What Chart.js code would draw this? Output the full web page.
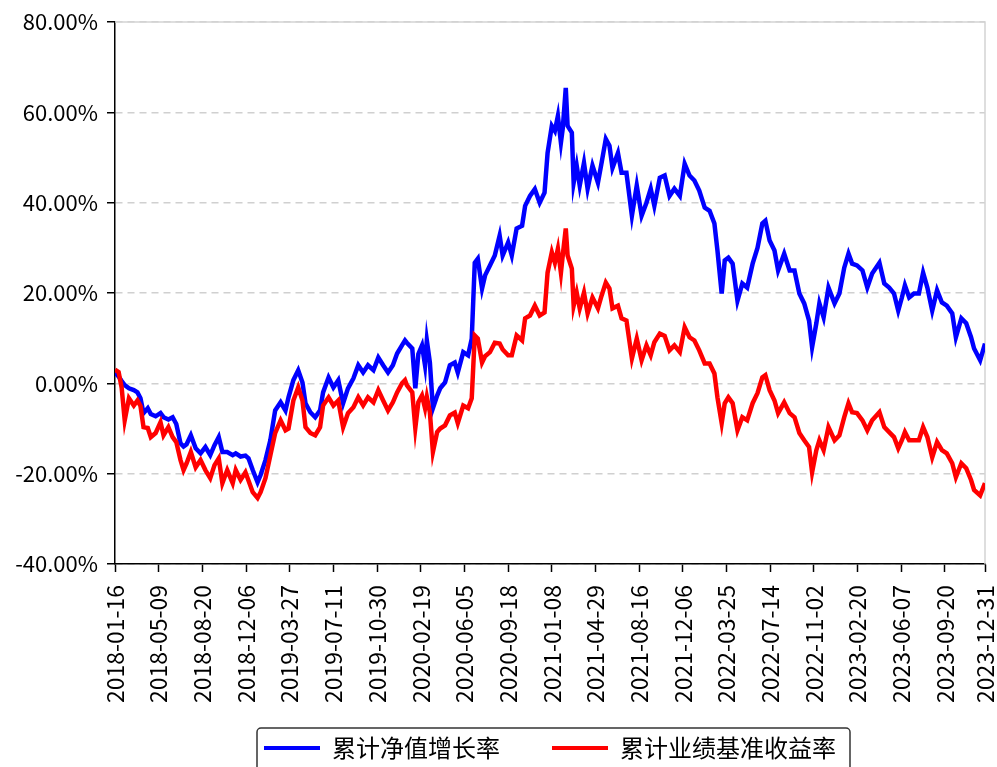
<!DOCTYPE html>
<html>
<head>
<meta charset="utf-8">
<script src="https://cdn.jsdelivr.net/npm/chart.js@4"></script>
<style>
  html, body { margin: 0; padding: 0; background: #fff; overflow: hidden; }
  #wrap { position: relative; width: 997px; height: 772px; }
</style>
</head>
<body>
<div id="wrap"><canvas id="chart"></canvas></div>
<script>
// trading-day index of each sampled point (0 = 2018-01-16)
const days = [
  0, 6, 11, 16, 23, 31, 37, 42, 47, 54,
  59, 67, 75, 80, 88, 95, 101, 108, 113, 118,
  125, 133, 141, 149, 157, 164, 171, 177, 185, 194,
  199, 207, 215, 220, 227, 235, 240, 248, 256, 264,
  273, 281, 286, 294, 302, 309, 314, 322, 330, 338,
  343, 352, 360, 368, 376, 384, 393, 401, 409, 417,
  426, 434, 442, 450, 458, 465, 473, 478, 481, 490,
  495, 500, 506, 511, 514, 519, 524, 531, 536, 544,
  552, 560, 565, 574, 582, 588, 593, 598, 605, 610,
  618, 626, 634, 639, 648, 654, 662, 671, 676, 684,
  692, 700, 708, 713, 720, 725, 730, 735, 738, 743,
  746, 753, 756, 761, 766, 773, 779, 787, 796, 802,
  809, 815, 820, 829, 835, 843, 852, 860, 868, 876,
  883, 889, 898, 906, 914, 922, 931, 939, 947, 955,
  963, 972, 980, 988, 993, 1000, 1005, 1011, 1018, 1026,
  1034, 1042, 1051, 1059, 1067, 1072, 1079, 1087, 1093, 1103,
  1112, 1120, 1128, 1136, 1144, 1149, 1156, 1161, 1168, 1176,
  1186, 1194, 1202, 1209, 1215, 1223, 1232, 1240, 1248, 1260,
  1268, 1276, 1284, 1291, 1297, 1302, 1309, 1317, 1325, 1332,
  1339, 1347, 1355, 1363, 1371, 1380, 1386, 1395, 1403, 1411,
  1416, 1426, 1434
];

// 累计净值增长率 (%)
const navGrowth = [
  2.5, 1.5, 0.5, -0.4, -1.1, -1.5, -2.0, -3.3, -6.6, -5.5,
  -6.8, -7.3, -6.6, -7.5, -8.0, -7.5, -9.0, -13.3, -14.0, -13.5,
  -11.5, -14.4, -15.5, -14.1, -15.9, -13.7, -11.9, -15.2, -15.2, -15.9,
  -15.5, -16.2, -16.0, -16.6, -19.2, -21.9, -20.3, -17.0, -12.6, -6.0,
  -4.2, -6.0, -3.1, 0.7, 2.9, 0.2, -4.4, -6.4, -7.5, -6.0,
  -2.0, 1.3, -0.9, 0.7, -4.4, -1.1, 1.1, 4.0, 2.4, 4.0,
  2.9, 5.7, 4.0, 2.4, 4.0, 6.6, 8.4, 9.5, 9.0, 7.7,
  -1.1, 6.5, 8.4, 4.0, 9.5, 4.6, -5.5, -2.7, -1.1, 0.2,
  4.0, 4.6, 2.4, 6.9, 6.2, 9.9, 26.7, 27.6, 21.0, 23.9,
  26.1, 28.3, 32.7, 28.3, 31.2, 28.3, 34.3, 34.9, 39.3, 41.5,
  43.0, 40.0, 42.2, 51.0, 57.0, 55.9, 59.2, 53.3, 56.4, 65.4,
  57.0, 55.5, 44.4, 48.2, 43.8, 48.8, 43.1, 48.2, 44.4, 48.8,
  54.1, 52.6, 47.7, 51.0, 46.6, 46.6, 37.1, 43.8, 37.1, 40.0,
  43.1, 39.3, 45.5, 46.0, 41.5, 43.1, 41.5, 48.6, 46.0, 44.9,
  42.7, 38.9, 38.2, 35.4, 29.4, 19.9, 27.2, 27.8, 26.5, 18.3,
  22.1, 21.2, 26.5, 30.0, 35.4, 36.0, 31.6, 29.4, 25.0, 28.7,
  25.0, 25.0, 19.9, 17.7, 13.9, 8.0, 13.3, 17.7, 14.6, 21.2,
  17.7, 19.9, 25.6, 28.7, 26.5, 26.1, 25.0, 21.2, 24.3, 26.7,
  22.1, 21.2, 19.9, 16.1, 19.0, 21.7, 19.0, 19.9, 19.9, 24.5,
  21.2, 16.1, 20.6, 17.9, 17.2, 15.5, 10.2, 14.4, 13.3, 10.2,
  7.7, 5.1, 8.8
];

// 累计业绩基准收益率 (%)
const benchReturn = [
  3.0, 2.5, -1.0, -8.2, -3.3, -4.9, -3.8, -5.0, -9.7, -9.9,
  -11.9, -11.0, -8.6, -11.5, -9.7, -11.9, -13.0, -17.0, -19.2, -17.7,
  -15.2, -18.6, -17.0, -19.2, -21.0, -18.1, -16.6, -22.1, -19.2, -22.1,
  -19.2, -21.4, -19.7, -21.5, -24.1, -25.4, -24.1, -21.0, -16.0, -11.0,
  -8.2, -10.4, -10.0, -3.8, -0.9, -3.8, -9.7, -11.0, -11.5, -9.7,
  -4.9, -3.1, -4.9, -3.8, -9.7, -6.6, -5.3, -3.1, -4.9, -3.1,
  -4.2, -1.5, -3.8, -6.0, -4.2, -2.0, 0.0, 0.7, -0.4, -2.0,
  -9.9, -4.2, -2.7, -5.5, -3.0, -6.4, -15.2, -10.8, -10.0, -9.3,
  -7.1, -6.5, -8.8, -4.9, -5.5, -3.3, 10.6, 9.9, 4.6, 6.0,
  6.9, 9.0, 8.8, 7.5, 6.2, 6.2, 10.6, 9.5, 14.4, 15.0,
  17.2, 15.0, 15.7, 24.5, 29.0, 26.7, 29.8, 24.5, 28.3, 34.3,
  28.3, 25.4, 17.2, 20.1, 16.6, 20.1, 15.5, 19.0, 16.6, 19.4,
  22.3, 21.0, 16.6, 17.2, 14.4, 13.9, 5.5, 9.9, 5.1, 8.4,
  6.2, 9.1, 11.0, 10.5, 7.3, 8.4, 6.9, 12.4, 10.2, 9.5,
  7.3, 4.4, 4.4, 2.2, -3.1, -8.8, -4.4, -3.1, -4.4, -10.4,
  -7.5, -8.2, -4.4, -2.2, 1.3, 1.8, -1.5, -3.8, -6.6, -4.2,
  -6.6, -7.5, -11.0, -12.6, -14.1, -19.7, -14.8, -12.6, -14.8, -9.7,
  -12.6, -11.5, -7.5, -4.4, -6.4, -6.6, -8.2, -10.4, -8.2, -6.4,
  -9.7, -10.8, -11.9, -14.4, -12.6, -10.8, -12.6, -12.6, -12.6, -9.7,
  -11.9, -16.4, -13.0, -14.8, -15.5, -17.7, -20.8, -17.7, -18.8, -21.4,
  -23.6, -24.8, -22.1
];

// x tick positions (trading-day index) and their date labels
const tickPos = [0, 72, 144, 216, 288, 360, 432, 504, 576, 648, 720, 792, 864, 936, 1008, 1080, 1152, 1224, 1296, 1368, 1434];
const tickLabels = [
  '2018-01-16', '2018-05-09', '2018-08-20', '2018-12-06', '2019-03-27', '2019-07-11', '2019-10-30',
  '2020-02-19', '2020-06-05', '2020-09-18', '2021-01-08', '2021-04-29', '2021-08-16', '2021-12-06',
  '2022-03-25', '2022-07-14', '2022-11-02', '2023-02-20', '2023-06-07', '2023-09-20', '2023-12-31'
];

const seriesNames = ['累计净值增长率', '累计业绩基准收益率'];

Chart.defaults.font.family = "'Noto Sans CJK SC', sans-serif";
Chart.defaults.font.size = 22;
Chart.defaults.color = '#000';

const toPoints = (vals) => vals.map((v, i) => ({ x: days[i], y: v }));

// light top/right spines and the box around the legend
const frame = {
  id: 'frame',
  beforeDatasetsDraw(chart) {
    const { ctx, chartArea: a } = chart;
    ctx.save();
    ctx.strokeStyle = '#d3d3d3';
    ctx.lineWidth = 1.5;
    ctx.beginPath();
    ctx.moveTo(a.left, a.top);
    ctx.lineTo(a.right, a.top);
    ctx.lineTo(a.right, a.bottom);
    ctx.stroke();
    ctx.restore();
  },
  afterDraw(chart) {
    const { ctx } = chart;
    const hb = chart.legend.legendHitBoxes;
    if (!hb || !hb.length) return;
    const first = hb[0], last = hb[hb.length - 1];
    const x0 = first.left - 7, x1 = last.left + last.width + 14;
    const y0 = first.top - 8, y1 = first.top + first.height + 16;
    ctx.save();
    ctx.strokeStyle = '#333';
    ctx.lineWidth = 1.5;
    ctx.beginPath();
    ctx.roundRect(x0, y0, x1 - x0, y1 - y0, 4);
    ctx.stroke();
    ctx.restore();
  }
};

new Chart(document.getElementById('chart'), {
  type: 'line',
  data: {
    datasets: [
      {
        label: seriesNames[0],
        data: toPoints(navGrowth),
        borderColor: '#0000ff',
        backgroundColor: '#0000ff',
        borderWidth: 4.5,
        pointRadius: 0,
        tension: 0,
        order: 1
      },
      {
        label: seriesNames[1],
        data: toPoints(benchReturn),
        borderColor: '#ff0000',
        backgroundColor: '#ff0000',
        borderWidth: 4.5,
        pointRadius: 0,
        tension: 0,
        order: 0
      }
    ]
  },
  options: {
    responsive: true,
    maintainAspectRatio: false,
    animation: false,
    layout: { padding: { top: 22, right: 12, bottom: 2, left: 0 } },
    scales: {
      x: {
        type: 'linear',
        min: 0,
        max: 1434,
        afterBuildTicks: (scale) => { scale.ticks = tickPos.map(v => ({ value: v })); },
        afterFit: (scale) => {
          scale.height = 120;
          scale.paddingLeft = 0;
          scale.paddingRight = 0;
          // let the rotated dates run past the axis box, down towards the legend
          scale._computeLabelArea = () => undefined;
        },
        ticks: {
          autoSkip: false,
          minRotation: 90,
          maxRotation: 90,
          padding: 13,
          font: { size: 23 },
          callback: (v, i) => tickLabels[i]
        },
        grid: { drawOnChartArea: false, tickLength: 8, tickWidth: 1.5, tickColor: '#000' },
        border: { color: '#000', width: 1.5 }
      },
      y: {
        min: -40,
        max: 80,
        afterFit: (scale) => { scale.width = 115; scale.paddingTop = 0; scale.paddingBottom = 0; },
        ticks: {
          stepSize: 20,
          padding: 9,
          callback: (v) => v.toFixed(2) + '%'
        },
        grid: { color: '#d0d0d0', lineWidth: 1.5, tickLength: 8, tickWidth: 1.5, tickColor: '#000' },
        border: { color: '#000', width: 1.5, dash: [7, 5] }
      }
    },
    plugins: {
      tooltip: { enabled: false },
      legend: {
        position: 'bottom',
        fullSize: false,
        labels: {
          font: { size: 24 },
          color: '#000',
          boxWidth: 56,
          boxHeight: 4,
          padding: 52,
          sort: (a, b) => a.datasetIndex - b.datasetIndex,
          generateLabels: (chart) =>
            Chart.defaults.plugins.legend.labels.generateLabels(chart)
              .map(l => ({ ...l, lineWidth: 0, fillStyle: l.strokeStyle }))
        }
      }
    }
  },
  plugins: [frame]
});
</script>
</body>
</html>
